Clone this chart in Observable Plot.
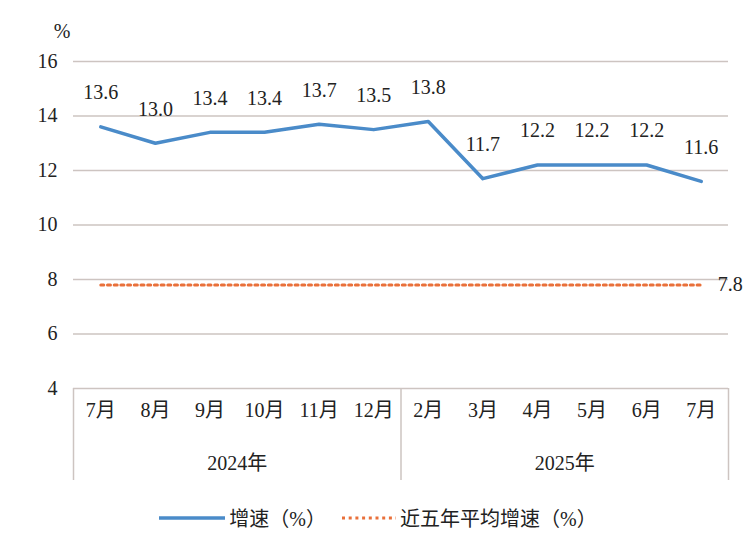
<!DOCTYPE html>
<html>
<head>
<meta charset="utf-8">
<script src="https://cdn.jsdelivr.net/npm/d3@7"></script>
<script src="https://cdn.jsdelivr.net/npm/@observablehq/plot@0.6"></script>
<style>
  html, body { margin: 0; padding: 0; background: #fff; }
  #chart { width: 756px; }
  .legend { height: 35px; display: flex; justify-content: center; align-items: center;
    font-family: "Liberation Serif", "Noto Sans CJK SC", serif; font-size: 20px; color: #222;
    box-sizing: border-box; }
  .legend .item { display: flex; align-items: center; margin: 0 8px; }
  .legend svg { margin-right: 4px; }
</style>
</head>
<body>
<div id="chart"></div>
<script>
const months = ["7月","8月","9月","10月","11月","12月","2月","3月","4月","5月","6月","7月"];
const years = ["2024年","2024年","2024年","2024年","2024年","2024年","2025年","2025年","2025年","2025年","2025年","2025年"];
const growth = [13.6, 13.0, 13.4, 13.4, 13.7, 13.5, 13.8, 11.7, 12.2, 12.2, 12.2, 11.6];
const avg5 = 7.8;
const yTicks = [4, 6, 8, 10, 12, 14, 16];

const blue = "#4a8bc9";
const orange = "#e9703a";
const grid = "#cdc4c1";
const font = '"Liberation Serif", "Noto Sans CJK SC", serif';

const data = growth.map((v, i) => ({i, v, m: months[i], yr: years[i]}));
const n = data.length;

// year groups: boundaries and centers
const groups = [];
data.forEach(d => {
  const g = groups[groups.length - 1];
  if (g && g.yr === d.yr) g.end = d.i; else groups.push({yr: d.yr, start: d.i, end: d.i});
});
const seps = [-0.5, ...groups.map(g => g.end + 0.5)];
const avgData = data.map(d => ({i: d.i, v: avg5}));

const chart = Plot.plot({
  width: 756,
  height: 500,
  marginLeft: 73,
  marginRight: 28,
  marginTop: 61,
  marginBottom: 112,
  style: {fontFamily: font, fontSize: "20px", color: "#222", background: "#fff"},
  x: {type: "linear", domain: [-0.5, n - 0.5], axis: null},
  y: {domain: [4, 16], axis: null},
  marks: [
    Plot.ruleY(yTicks, {stroke: grid, strokeWidth: 1.5}),
    Plot.ruleX(seps, {x: d => d, y1: () => yTicks[0], y2: () => yTicks[0], stroke: grid, strokeWidth: 1.5, insetBottom: -92}),
    Plot.text(yTicks, {x: -0.5, y: d => d, text: d => String(d), textAnchor: "end", dx: -16, fontSize: 20, fill: "#222"}),
    Plot.text(["%"], {x: -0.5, y: 16, text: d => d, textAnchor: "end", dx: -3, dy: -30, fontSize: 20, fill: "#222"}),
    Plot.text(data, {x: "i", y: yTicks[0], text: "m", dy: 22, fontSize: 20, fill: "#222"}),
    Plot.text(groups, {x: g => (g.start + g.end) / 2, y: yTicks[0], text: "yr", dy: 75, fontSize: 20, fill: "#222"}),
    Plot.line(avgData, {x: "i", y: "v", stroke: orange, strokeWidth: 3, strokeDasharray: "3,3.7"}),
    Plot.line(data, {x: "i", y: "v", stroke: blue, strokeWidth: 3.5}),
    Plot.text(data, {x: "i", y: "v", text: d => d.v.toFixed(1), dy: -34, fontSize: 20, fill: "#222"}),
    Plot.text([avg5], {x: n - 1, y: d => d, text: d => d.toFixed(1), dx: 29, fontSize: 20, fill: "#222"})
  ]
});
document.getElementById("chart").appendChild(chart);

const legend = document.createElement("div");
legend.className = "legend";
legend.innerHTML = `
  <div class="item"><svg width="66" height="10"><line x1="0" x2="66" y1="5" y2="5" stroke="${blue}" stroke-width="3.5"/></svg><span>增速（%）</span></div>
  <div class="item"><svg width="54" height="10"><line x1="0" x2="54" y1="5" y2="5" stroke="${orange}" stroke-width="3" stroke-dasharray="3,3.7"/></svg><span>近五年平均增速（%）</span></div>`;
document.getElementById("chart").appendChild(legend);
</script>
</body>
</html>
